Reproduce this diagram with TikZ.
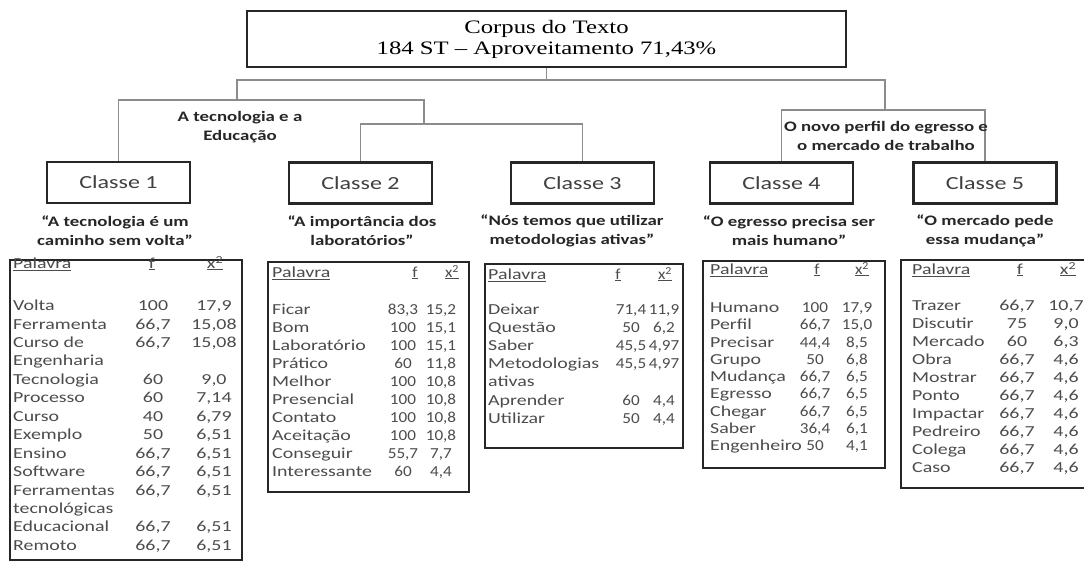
\documentclass[tikz,border=0pt]{standalone}
\usepackage{fontspec}
\setmainfont{Liberation Serif}[FakeStretch=1.3]
\newfontfamily\calib{Carlito}[FakeStretch=1.3]
\newfontfamily\calibn{Carlito}[FakeStretch=1.12]
\begin{document}
\begin{tikzpicture}[x=1pt,y=-1pt,
  box/.style={draw=black!85, line width=2.4pt, inner sep=0pt},
  link/.style={draw=black!45, line width=1.3pt},
  classbox/.style={box, minimum width=143pt, minimum height=41pt, font=\calib\fontsize{18.5}{20}\selectfont, text=black!75},
  sub/.style={align=center, inner sep=0pt, font=\calib\bfseries\fontsize{14.5}{19}\selectfont, text=black!85},
  cell/.style={anchor=mid west, inner sep=0pt, font=\calib\fontsize{15.3}{18}\selectfont, text=black!70},
  num/.style={anchor=mid, inner sep=0pt, font=\numfont\fontsize{15.3}{18}\selectfont, text=black!70}]
\newcommand\trow[5]{%
  \node[cell] (#1w) at (\xw,#2) {#3};
  \node[num] (#1f) at (\xf,#2) {#4};
  \node[num] (#1x) at (\xx,#2) {#5};}
\newcommand\tword[3]{\node[cell] (#1w) at (\xw,#2) {#3};}
\newcommand\thead[4]{%
  \node[cell] (#1hw) at (\xw,#2) {\underline{Palavra}};
  \node[num] (#1hf) at (#3,#2) {\underline{f}};
  \node[num] (#1hx) at (#4,#2) {\underline{x\textsuperscript{2}}};}
\useasboundingbox (0,0) rectangle (1084,561);
\clip (0,0) rectangle (1084,561);
\fill[white] (0,0) rectangle (1084,561);

% root
\node[box, minimum width=599pt, minimum height=56pt, align=center,
      font=\fontsize{19}{21}\selectfont] (corpus) at (546.5,39)
      {Corpus do Texto\\184 ST – Aproveitamento 71,43\%};

% classes
\node[classbox] (c1) at (118.5,182.5) {Classe 1};
\node[classbox] (c2) at (360.5,183) {Classe 2};
\node[classbox] (c3) at (582.5,183) {Classe 3};
\node[classbox] (c4) at (781.5,183) {Classe 4};
\node[classbox] (c5) at (985,183) {Classe 5};

% junctions
\coordinate (n0) at (546.5,80);
\coordinate (n1) at (237,100);
\coordinate (n2) at (424,124);
\coordinate (n3) at (885,110);
\draw[link] (corpus.south) -- (n0);
\draw[link] (n1) |- (n0) -| (n3);
\draw[link] (c1.north) |- (n1) -| (n2);
\draw[link] (c2.north) |- (n2) -| (c3.north);
\draw[link] (c4.north) |- (n3) -| (c5.north);

% cluster labels
\node[sub] (g1) at (240,127.5) {A tecnologia e a\\Educação};
\node[sub] (g2) at (886,136) {O novo perfil do egresso e\\o mercado de trabalho};

% class subtitles
\node[sub] (s1) at (115,231) {“A tecnologia é um\\caminho sem volta”};
\node[sub] (s2) at (362,231) {“A importância dos\\laboratórios”};
\node[sub] (s3) at (572,231) {“Nós temos que utilizar\\metodologias ativas”};
\node[sub] (s4) at (789,231) {“O egresso precisa ser\\mais humano”};
\node[sub] (s5) at (985,231) {“O mercado pede\\essa mudança”};

% table 1
\let\numfont\calib
\node[box, minimum width=232pt, minimum height=300pt] (t1) at (126,410) {};
\def\xw{13}\def\xf{153}\def\xx{214}
\thead{a}{266}{152}{215}
\trow{a1}{308}{Volta}{100}{17,9}
\trow{a2}{327}{Ferramenta}{66,7}{15,08}
\trow{a3}{345}{Curso de}{66,7}{15,08}
\tword{a4}{363}{Engenharia}
\trow{a5}{382}{Tecnologia}{60}{9,0}
\trow{a6}{400}{Processo}{60}{7,14}
\trow{a7}{419}{Curso}{40}{6,79}
\trow{a8}{437}{Exemplo}{50}{6,51}
\trow{a9}{456}{Ensino}{66,7}{6,51}
\trow{a10}{474}{Software}{66,7}{6,51}
\trow{a11}{493}{Ferramentas}{66,7}{6,51}
\tword{a12}{511}{tecnológicas}
\trow{a13}{529}{Educacional}{66,7}{6,51}
\trow{a14}{548}{Remoto}{66,7}{6,51}

% table 2
\let\numfont\calibn
\node[box, minimum width=201pt, minimum height=230pt] (t2) at (368.5,377) {};
\def\xw{272}\def\xf{403}\def\xx{441}
\thead{b}{275}{415}{452}
\trow{b1}{312}{Ficar}{83,3}{15,2}
\trow{b2}{330}{Bom}{100}{15,1}
\trow{b3}{348}{Laboratório}{100}{15,1}
\trow{b4}{366}{Prático}{60}{11,8}
\trow{b5}{384}{Melhor}{100}{10,8}
\trow{b6}{402}{Presencial}{100}{10,8}
\trow{b7}{420}{Contato}{100}{10,8}
\trow{b8}{438}{Aceitação}{100}{10,8}
\trow{b9}{456}{Conseguir}{55,7}{7,7}
\trow{b10}{474}{Interessante}{60}{4,4}

% table 3
\node[box, minimum width=198pt, minimum height=184pt] (t3) at (584,356) {};
\def\xw{488}\def\xf{631}\def\xx{664}
\thead{c}{277}{618}{665}
\trow{c1}{312}{Deixar}{71,4}{11,9}
\trow{c2}{330}{Questão}{50}{6,2}
\trow{c3}{348}{Saber}{45,5}{4,97}
\trow{c4}{366}{Metodologias}{45,5}{4,97}
\tword{c5}{384}{ativas}
\trow{c6}{403}{Aprender}{60}{4,4}
\trow{c7}{421}{Utilizar}{50}{4,4}

% table 4
\node[box, minimum width=182pt, minimum height=207pt] (t4) at (794,364.5) {};
\def\xw{710}\def\xf{815}\def\xx{857}
\thead{d}{272}{817}{862}
\trow{d1}{310}{Humano}{100}{17,9}
\trow{d2}{327}{Perfil}{66,7}{15,0}
\trow{d3}{345}{Precisar}{44,4}{8,5}
\trow{d4}{362}{Grupo}{50}{6,8}
\trow{d5}{379}{Mudança}{66,7}{6,5}
\trow{d6}{396}{Egresso}{66,7}{6,5}
\trow{d7}{414}{Chegar}{66,7}{6,5}
\trow{d8}{431}{Saber}{36,4}{6,1}
\trow{d9}{448}{Engenheiro}{50}{4,1}

% table 5
\let\numfont\calib
\node[box, minimum width=195pt, minimum height=228pt] (t5) at (998.5,374) {};
\def\xw{912}\def\xf{1017}\def\xx{1066}
\thead{e}{272}{1020}{1068}
\trow{e1}{308}{Trazer}{66,7}{10,7}
\trow{e2}{326}{Discutir}{75}{9,0}
\trow{e3}{344}{Mercado}{60}{6,3}
\trow{e4}{362}{Obra}{66,7}{4,6}
\trow{e5}{380}{Mostrar}{66,7}{4,6}
\trow{e6}{398}{Ponto}{66,7}{4,6}
\trow{e7}{416}{Impactar}{66,7}{4,6}
\trow{e8}{434}{Pedreiro}{66,7}{4,6}
\trow{e9}{452}{Colega}{66,7}{4,6}
\trow{e10}{470}{Caso}{66,7}{4,6}
\end{tikzpicture}
\end{document}
